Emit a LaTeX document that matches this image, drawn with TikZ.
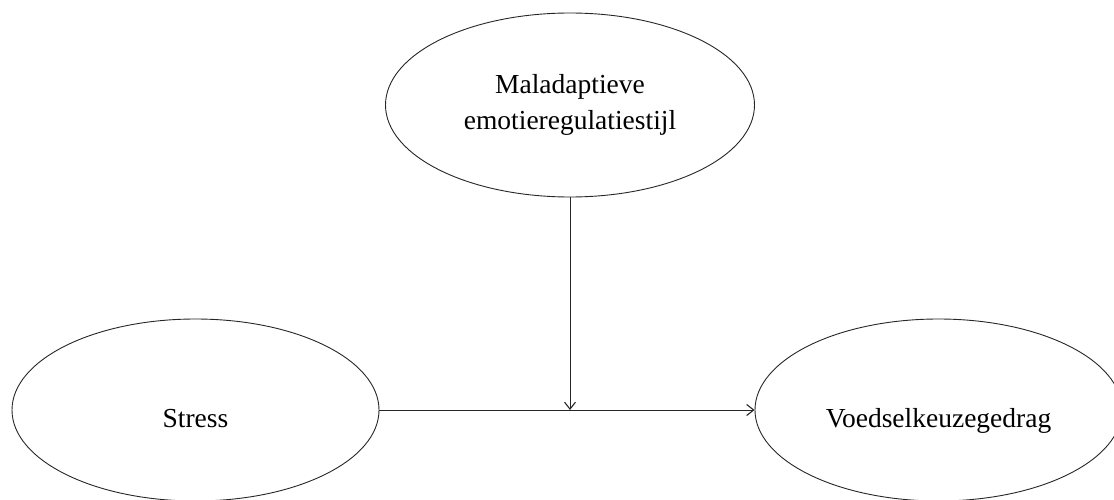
\documentclass[tikz,border=0pt]{standalone}
\usepackage{fontspec}
\setmainfont{Liberation Serif}
\usetikzlibrary{shapes.geometric,arrows.meta}
\begin{document}
\begin{tikzpicture}[x=1pt,y=-1pt,
  oval/.style={draw=black!85,line width=0.9pt,ellipse,inner sep=0pt,font=\fontsize{27.5}{35.5}\selectfont,align=center},
  low/.style={text height=34pt,text depth=0pt},
  conn/.style={draw=black!85,line width=0.9pt,-{Straight Barb[length=7pt,width=11pt,line width=1.1pt]}}]
\useasboundingbox (0,0) rectangle (1114,500);
\node[oval,low,minimum width=367pt,minimum height=182pt] (s) at (195.5,410) {Stress};
\node[oval,low,minimum width=367pt,minimum height=182pt] (v) at (938.5,410) {Voedselkeuzegedrag};
\node[oval,minimum width=369pt,minimum height=184pt] (t) at (570,105) {Maladaptieve\\emotieregulatiestijl};
\coordinate (m) at (570,410);
\draw[conn] (s.east) -- (v.west);
\draw[conn] (t.south -| m) -- (m);
\end{tikzpicture}
\end{document}
